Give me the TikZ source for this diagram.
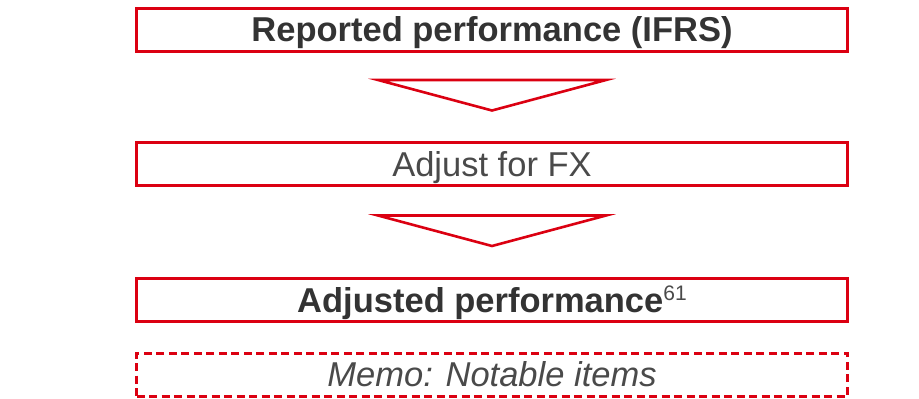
\documentclass[tikz,border=0pt]{standalone}
\usepackage{fontspec}
\setmainfont{Liberation Sans}
\definecolor{hred}{HTML}{DB0011}
\definecolor{htext}{HTML}{333333}
\definecolor{hlight}{HTML}{4A4A4A}
\begin{document}
\begin{tikzpicture}[x=1pt,y=-1pt,
  box/.style={draw=hred,line width=3pt,minimum width=711pt,minimum height=43pt,inner sep=0pt,anchor=center},
  dbox/.style={box,dash pattern=on 8pt off 4.5pt},
  tri/.style={draw=hred,line width=2.6pt,line join=miter,fill=white},
  lbl/.style={font=\fontsize{34.5}{40}\selectfont,text depth=0pt,text height=24.6pt}]
\useasboundingbox (0,0) rectangle (919,399);
\node[box,lbl] (rep) at (492,29.5) {\textcolor{htext}{\bfseries Reported performance (IFRS)}};
\node[box,lbl] (fx) at (492,164) {\textcolor{hlight}{Adjust for FX}};
\node[box,lbl] (adj) at (492,300) {\textcolor{htext}{\bfseries Adjusted performance}\textcolor{hlight}{\raisebox{12pt}{\fontsize{21}{24}\selectfont 61}}};
\node[dbox,lbl] (memo) at (492,374.5) {\textcolor{hlight}{\itshape Memo: Notable items}};
\coordinate (t1l) at (378,80);
\coordinate (t1r) at (606,80);
\coordinate (t1a) at (492,110.5);
\draw[tri] (t1l) -- (t1r) -- (t1a) -- cycle;
\coordinate (t2l) at (378,215.5);
\coordinate (t2r) at (606,215.5);
\coordinate (t2a) at (492,246);
\draw[tri] (t2l) -- (t2r) -- (t2a) -- cycle;
\end{tikzpicture}
\end{document}
